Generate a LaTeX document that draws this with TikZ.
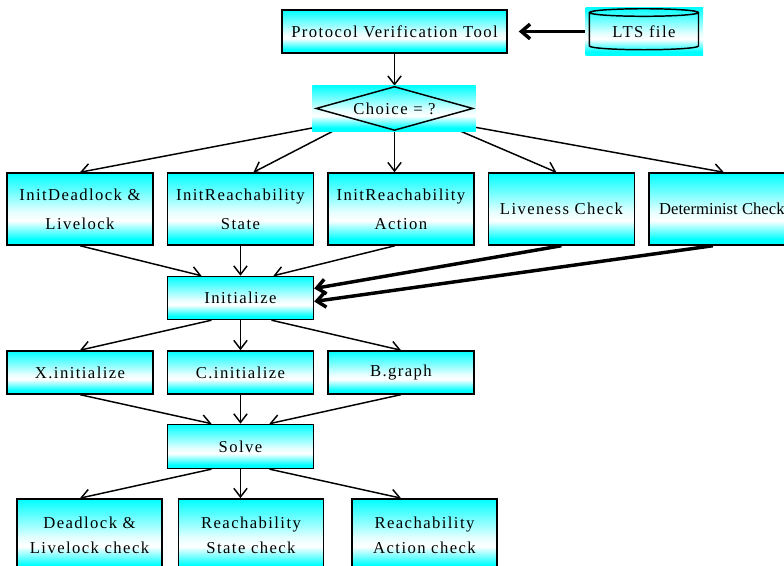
\documentclass[tikz,border=0pt]{standalone}
\usepackage{fontspec}
\setmainfont{Liberation Serif}[LetterSpace=8.5]
\newfontfamily\plainserif{Liberation Serif}
\usepackage{tikz}
\usetikzlibrary{arrows.meta,positioning,shapes.geometric,calc}

\pgfdeclarelayer{edges}
\pgfdeclarelayer{back}
\pgfsetlayers{edges,back,main}
\pgfdeclareverticalshading{cyanbox}{100bp}{color(0bp)=(cyan); color(29bp)=(cyan); color(42bp)=(white); color(48bp)=(cyan!10!white); color(75bp)=(cyan); color(100bp)=(cyan)}
\newcommand{\boxfont}{\fontsize{12.5}{21.75}\selectfont}

\begin{document}
\begin{tikzpicture}[
        x=0.75pt, y=-0.75pt,
        box/.style={rectangle, draw, line width=1.1pt, shade, shading=cyanbox, minimum width=109.5pt, minimum height=54pt, inner sep=0pt, align=center, font=\boxfont},
        flatbox/.style={box, minimum height=32.25pt},
        checkbox/.style={box, minimum width=108.75pt, font=\fontsize{12.5}{18.75}\selectfont},
        choicebox/.style={diamond, draw, line width=1.1pt, aspect=3.57, inner sep=0pt, minimum width=117.75pt, minimum height=33pt, font=\boxfont},
        filebox/.style={cylinder, shape border rotate=90, draw, line width=1.1pt, aspect=0.12, inner sep=0pt, minimum width=81.75pt, minimum height=30.75pt, font=\boxfont},
        arr/.style={-{Straight Barb[length=6.5pt,width=10pt]}, line width=1.1pt},
        bigarr/.style={-{Straight Barb[length=6.5pt,width=11pt]}, line width=2.6pt}
    ]
        \useasboundingbox (0,0) rectangle (784,566);

        \node[flatbox, minimum width=168.75pt] (pvt) at (394.5,31.5) {Protocol Verification Tool};
        \node[filebox, right=60.75pt of pvt] (lts) {LTS file};
        \node[choicebox, below=24pt of pvt] (choice) {Choice = ?};

        \node[box] (deadinit) at (80,209) {InitDeadlock \&\\Livelock};
        \node[box, right=9.75pt of deadinit] (stateinit) {InitReachability\\State};
        \node[box, right=9.75pt of stateinit] (actioninit) {InitReachability\\Action};
        \node[box, right=9.75pt of actioninit] (liveness) {Liveness Check};
        \node[box, right=9.75pt of liveness, font=\plainserif\boxfont] (determ) {Determinist Check};

        \node[flatbox, below=22.5pt of stateinit] (init) {Initialize};
        \node[flatbox, below=22.5pt of init] (cinit) {C.initialize};
        \node[flatbox, left=9.75pt of cinit] (xinit) {X.initialize};
        \node[flatbox, right=9.75pt of cinit] (bgraph) {B.graph};

        \node[flatbox, below=21.75pt of cinit, minimum height=33pt] (solve) {Solve};
        \node[checkbox, below=21.75pt of solve, xshift=7.9pt] (statechk) {Reachability\\State check};
        \node[checkbox, left=11.25pt of statechk] (deadchk) {Deadlock \&\\Livelock check};
        \node[checkbox, right=20.25pt of statechk] (actionchk) {Reachability\\Action check};

        \begin{pgfonlayer}{back}
            \shade[shading=cyanbox] ($(choice.west)+(-3,-23)$) rectangle ($(choice.east)+(2,23)$);
            \shade[shading=cyanbox] ($(lts.west)+(-3,-24)$) rectangle ($(lts.east)+(4,24)$);
        \end{pgfonlayer}

        \begin{pgfonlayer}{edges}
            \draw[bigarr, shorten >=8.25pt] (lts.west) -- (pvt.east);
            \draw[arr] (pvt) -- (choice);
            \draw[arr] (choice.south west) -- (deadinit.north);
            \draw[arr] (choice.south west) -- ($(stateinit.north)+(13,0)$);
            \draw[arr] (choice) -- (choice |- actioninit.north);
            \draw[arr] (choice.south east) -- ($(liveness.north)+(-5,0)$);
            \draw[arr] (choice.south east) -- ($(determ.north)+(2,0)$);

            \draw[arr] (deadinit.south) -- ($(init.north)+(-39,0)$);
            \draw[arr] (stateinit) -- (init);
            \draw[arr] ($(actioninit.south)+(-6,0)$) -- ($(init.north)+(33,0)$);
            \draw[bigarr] (liveness.south) -- ($(init.east)+(0,-9.5)$);
            \draw[bigarr] ($(determ.south)+(-9,0)$) -- ($(init.east)+(0,3.5)$);

            \draw[arr] ($(init.south)+(-29,0)$) -- (xinit.north);
            \draw[arr] (init) -- (cinit);
            \draw[arr] ($(init.south)+(31,0)$) -- (bgraph.north);
            \draw[arr] (xinit.south) -- ($(solve.north)+(-29,0)$);
            \draw[arr] (cinit) -- (solve);
            \draw[arr] (bgraph.south) -- ($(solve.north)+(29,0)$);

            \draw[arr] ($(solve.south)+(-29,0)$) -- ($(deadchk.north)+(-9.5,0)$);
            \draw[arr] (solve) -- (solve |- statechk.north);
            \draw[arr] ($(solve.south)+(29,0)$) -- ($(actionchk.north)+(-23.5,0)$);
        \end{pgfonlayer}
    \end{tikzpicture}
\end{document}
